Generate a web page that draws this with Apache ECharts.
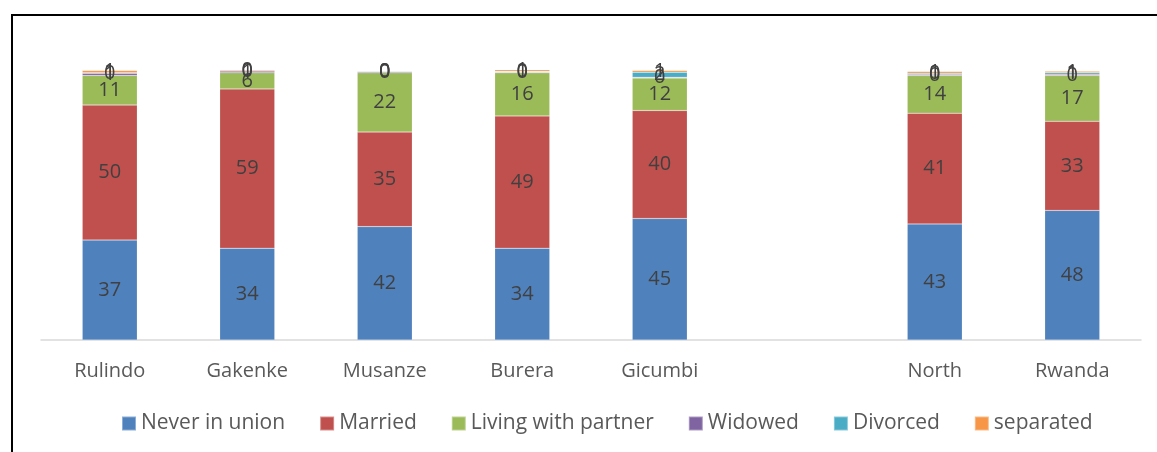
<!DOCTYPE html>
<html>
<head>
<meta charset="utf-8">
<script src="https://cdn.jsdelivr.net/npm/echarts@6/dist/echarts.min.js"></script>
<style>
  body { margin: 0; background: #fff; }
  #chart { width: 1157px; height: 452px; }
  #frame { position: absolute; left: 11px; top: 14px; width: 1200px; height: 500px;
           border-left: 2px solid #000; border-top: 2px solid #000; pointer-events: none; }
</style>
</head>
<body>
<div id="chart"></div>
<div id="frame"></div>
<script>
// categories (empty slot between Gicumbi and North)
const districts = ['Rulindo', 'Gakenke', 'Musanze', 'Burera', 'Gicumbi', '', 'North', 'Rwanda'];

// percentages per marital status
const neverInUnion = [37, 34, 42, 34, 45, null, 43, 48];
const married      = [50, 59, 35, 49, 40, null, 41, 33];
const livingWith   = [11, 6, 22, 16, 12, null, 14, 17];
const widowed      = [0.8, 0.6, 0.4, 0.3, 0.3, null, 0.4, 0.4];
const divorced     = [0.2, 0.1, 0.1, 0.2, 1.9, null, 0.4, 0.6];
const separated    = [0.8, 0.4, 0.1, 0.6, 0.6, null, 0.6, 0.5];

const seriesDefs = [
  ['Never in union', neverInUnion, '#4F81BD'],
  ['Married', married, '#C0504D'],
  ['Living with partner', livingWith, '#9BBB59'],
  ['Widowed', widowed, '#8064A2'],
  ['Divorced', divorced, '#4BACC6'],
  ['separated', separated, '#F79646']
];

const font = "'Open Sans', 'Noto Sans', sans-serif";
let chart = echarts.init(document.getElementById('chart'));

let option = {
  animation: false,
  textStyle: { fontFamily: font },
  grid: { left: 41, right: 16, top: 70, bottom: 112 },
  legend: {
    top: 408,
    left: 116,
    itemWidth: 14,
    itemHeight: 14,
    itemGap: 34,
    icon: 'rect',
    textStyle: { color: '#595959', fontSize: 21, fontFamily: font, padding: [0, 0, 0, 0] }
  },
  xAxis: {
    type: 'category',
    data: districts,
    axisTick: { show: false },
    axisLine: { lineStyle: { color: '#D9D9D9', width: 1.5 } },
    axisLabel: { color: '#595959', fontSize: 20, margin: 21, interval: 0, fontFamily: font }
  },
  yAxis: {
    type: 'value',
    min: 0,
    max: 100,
    show: false
  },
  series: seriesDefs.map(([name, data, color]) => ({
    name: name,
    type: 'bar',
    stack: 'total',
    data: data,
    barWidth: '40%',
    itemStyle: { color: color, borderColor: 'rgba(255,255,255,0.35)', borderWidth: 0.5 },
    label: {
      show: true,
      position: 'inside',
      color: '#404040',
      fontSize: 20,
      fontFamily: font,
      formatter: p => p.value == null ? '' : String(Math.round(p.value))
    }
  }))
};

chart.setOption(option);
</script>
</body>
</html>
